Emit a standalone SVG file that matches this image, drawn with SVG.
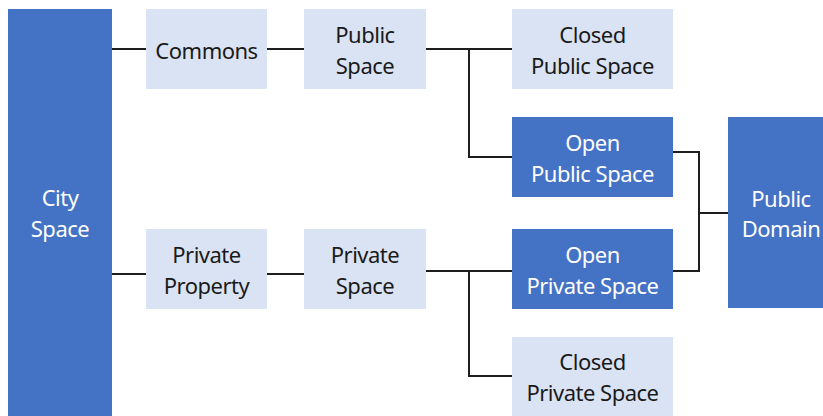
<svg xmlns="http://www.w3.org/2000/svg" width="823" height="416" viewBox="0 0 823 416">
<style>
.dark{fill:#4472C4}
.light{fill:#DAE3F3}
text{font-family:"Noto Sans","Open Sans","Liberation Sans",sans-serif;font-size:22px;letter-spacing:-0.5px;text-anchor:middle}
.tl{fill:#1a1a1a}
.tw{fill:#ffffff}
.c{fill:none;stroke:#1e1e1e;stroke-width:2}
</style>
<rect width="823" height="416" fill="#ffffff"/>
<g id="connectors">
<path class="c" d="M112 49H146M267 49H304M426 49H512M469 49V157H512"/>
<path class="c" d="M673 152H699V271H673M699 213H728"/>
<path class="c" d="M112 274H146M267 274H304M426 271H512M469 271V376H512"/>
</g>
<g id="city-space"><rect class="dark" x="8" y="9" width="104" height="410"/><text class="tw" x="60" y="206">City</text><text class="tw" x="60" y="237">Space</text></g>
<g id="commons"><rect class="light" x="146" y="9" width="121" height="80"/><text class="tl" x="206.5" y="59">Commons</text></g>
<g id="public-space"><rect class="light" x="304" y="9" width="122" height="80"/><text class="tl" x="365" y="43">Public</text><text class="tl" x="365" y="74">Space</text></g>
<g id="closed-public-space"><rect class="light" x="512" y="9" width="161" height="80"/><text class="tl" x="592.5" y="43">Closed</text><text class="tl" x="592.5" y="74">Public Space</text></g>
<g id="open-public-space"><rect class="dark" x="512" y="117" width="161" height="80"/><text class="tw" x="592.5" y="151">Open</text><text class="tw" x="592.5" y="182">Public Space</text></g>
<g id="public-domain"><rect class="dark" x="728" y="117" width="110" height="191"/><text class="tw" x="781" y="207">Public</text><text class="tw" x="781" y="237">Domain</text></g>
<g id="private-property"><rect class="light" x="146" y="229" width="121" height="80"/><text class="tl" x="206.5" y="263">Private</text><text class="tl" x="206.5" y="294">Property</text></g>
<g id="private-space"><rect class="light" x="304" y="229" width="122" height="80"/><text class="tl" x="365" y="263">Private</text><text class="tl" x="365" y="294">Space</text></g>
<g id="open-private-space"><rect class="dark" x="512" y="229" width="161" height="80"/><text class="tw" x="592.5" y="263">Open</text><text class="tw" x="592.5" y="294">Private Space</text></g>
<g id="closed-private-space"><rect class="light" x="512" y="337" width="161" height="82"/><text class="tl" x="592.5" y="370">Closed</text><text class="tl" x="592.5" y="401">Private Space</text></g>
</svg>
